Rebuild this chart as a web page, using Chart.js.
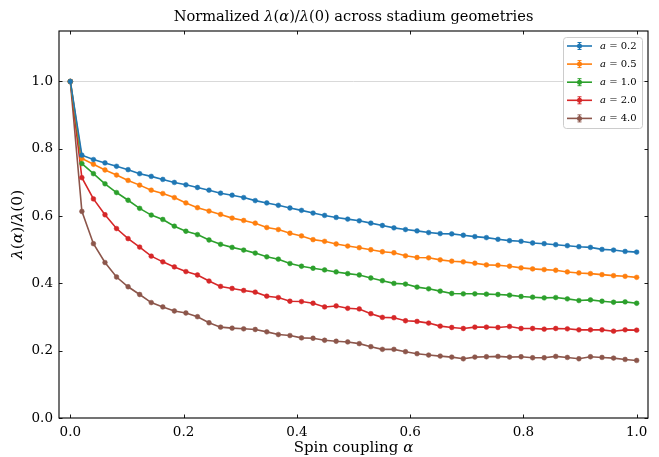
<!DOCTYPE html>
<html>
<head>
<meta charset="utf-8">
<script src="https://cdn.jsdelivr.net/npm/chart.js@4.4.1/dist/chart.umd.min.js"></script>
<style>
html,body{margin:0;padding:0;background:#fff;}
#c{display:block;}
</style>
</head>
<body>
<canvas id="c" width="659" height="457"></canvas>
<script>
const alphaValues = [0, 0.0204, 0.0408, 0.0612, 0.0816, 0.1020, 0.1224, 0.1429, 0.1633, 0.1837,
  0.2041, 0.2245, 0.2449, 0.2653, 0.2857, 0.3061, 0.3265, 0.3469, 0.3673, 0.3878,
  0.4082, 0.4286, 0.4490, 0.4694, 0.4898, 0.5102, 0.5306, 0.5510, 0.5714, 0.5918,
  0.6122, 0.6327, 0.6531, 0.6735, 0.6939, 0.7143, 0.7347, 0.7551, 0.7755, 0.7959,
  0.8163, 0.8367, 0.8571, 0.8776, 0.8980, 0.9184, 0.9388, 0.9592, 0.9796, 1.0];

const seriesA02 = [1.0, 0.781, 0.768, 0.758, 0.748, 0.738, 0.726, 0.718, 0.709, 0.700, 0.693, 0.685, 0.677,
  0.668, 0.662, 0.655, 0.646, 0.639, 0.632, 0.624, 0.617, 0.609, 0.602, 0.596, 0.591,
  0.586, 0.579, 0.572, 0.565, 0.560, 0.556, 0.551, 0.548, 0.547, 0.543, 0.539, 0.536,
  0.531, 0.527, 0.525, 0.520, 0.518, 0.515, 0.512, 0.509, 0.507, 0.501, 0.499, 0.495, 0.493];
const seriesA05 = [1.0, 0.771, 0.754, 0.737, 0.722, 0.706, 0.692, 0.677, 0.667, 0.655, 0.639, 0.625, 0.615,
  0.605, 0.594, 0.587, 0.579, 0.566, 0.560, 0.549, 0.541, 0.530, 0.525, 0.517, 0.511,
  0.506, 0.500, 0.494, 0.491, 0.482, 0.477, 0.476, 0.470, 0.466, 0.464, 0.460, 0.455,
  0.454, 0.451, 0.446, 0.443, 0.441, 0.439, 0.434, 0.431, 0.429, 0.426, 0.423, 0.421, 0.418];
const seriesA10 = [1.0, 0.756, 0.726, 0.696, 0.670, 0.647, 0.623, 0.603, 0.590, 0.570, 0.555, 0.545, 0.529,
  0.516, 0.507, 0.499, 0.490, 0.479, 0.472, 0.459, 0.451, 0.445, 0.440, 0.434, 0.429,
  0.425, 0.416, 0.408, 0.400, 0.398, 0.389, 0.384, 0.377, 0.370, 0.369, 0.369, 0.368,
  0.367, 0.365, 0.361, 0.359, 0.357, 0.358, 0.354, 0.349, 0.351, 0.347, 0.344, 0.345, 0.341];
const seriesA20 = [1.0, 0.714, 0.651, 0.604, 0.563, 0.533, 0.508, 0.481, 0.464, 0.449, 0.435, 0.425, 0.407,
  0.391, 0.385, 0.379, 0.374, 0.362, 0.358, 0.347, 0.346, 0.341, 0.330, 0.333, 0.326,
  0.324, 0.310, 0.299, 0.298, 0.289, 0.287, 0.282, 0.273, 0.269, 0.266, 0.270, 0.270,
  0.269, 0.272, 0.266, 0.266, 0.264, 0.266, 0.265, 0.262, 0.262, 0.262, 0.258, 0.262, 0.261];
const seriesA40 = [1.0, 0.614, 0.518, 0.462, 0.419, 0.390, 0.367, 0.343, 0.330, 0.318, 0.312, 0.301, 0.283,
  0.270, 0.267, 0.265, 0.263, 0.256, 0.248, 0.245, 0.238, 0.237, 0.231, 0.228, 0.226,
  0.221, 0.212, 0.204, 0.204, 0.197, 0.191, 0.187, 0.184, 0.181, 0.176, 0.181, 0.182,
  0.183, 0.181, 0.182, 0.179, 0.179, 0.183, 0.180, 0.176, 0.182, 0.180, 0.178, 0.174, 0.171];

const seriesLabels = ["0.2", "0.5", "1.0", "2.0", "4.0"];
const seriesColors = ["#1f77b4", "#ff7f0e", "#2ca02c", "#d62728", "#8c564b"];
const xTickValues = [0.0, 0.2, 0.4, 0.6, 0.8, 1.0];
const yTickValues = [0.0, 0.2, 0.4, 0.6, 0.8, 1.0];

const allSeries = [seriesA02, seriesA05, seriesA10, seriesA20, seriesA40];
const FONT = "'DejaVu Serif', 'Liberation Serif', serif";

const datasets = allSeries.map((s, k) => ({
  label: seriesLabels[k],
  data: s.map((v, i) => ({x: alphaValues[i], y: v})),
  borderColor: seriesColors[k],
  backgroundColor: seriesColors[k],
  pointBackgroundColor: seriesColors[k],
  pointBorderColor: seriesColors[k],
  borderWidth: 1.6,
  pointRadius: 2.4,
  pointBorderWidth: 0.5,
  tension: 0,
  fill: false
}));

function drawRich(ctx, segs, x, y, size, align) {
  let total = 0;
  const widths = segs.map(s => {
    ctx.font = (s.it ? 'italic ' : '') + size + 'px ' + FONT;
    const w = ctx.measureText(s.t).width;
    total += w;
    return w;
  });
  let cx = align === 'center' ? x - total / 2 : x;
  segs.forEach((s, i) => {
    ctx.font = (s.it ? 'italic ' : '') + size + 'px ' + FONT;
    ctx.textAlign = 'left';
    ctx.fillText(s.t, cx, y);
    cx += widths[i];
  });
}

const decorPlugin = {
  id: 'decor',
  beforeDatasetsDraw(chart) {
    const ctx = chart.ctx, a = chart.chartArea, ys = chart.scales.y;
    const py = ys.getPixelForValue(1.0);
    ctx.save();
    ctx.strokeStyle = '#d9d9d9';
    ctx.lineWidth = 1;
    ctx.beginPath();
    ctx.moveTo(a.left, Math.round(py) + 0.5);
    ctx.lineTo(a.right, Math.round(py) + 0.5);
    ctx.stroke();
    ctx.restore();
  },
  afterDraw(chart) {
    const ctx = chart.ctx, a = chart.chartArea, xs = chart.scales.x, ys = chart.scales.y;
    ctx.save();
    ctx.strokeStyle = '#000';
    ctx.lineWidth = 1.1;
    ctx.strokeRect(a.left, a.top, a.right - a.left, a.bottom - a.top);
    const L = 3.5;
    ctx.lineWidth = 0.9;
    ctx.beginPath();
    xTickValues.forEach(v => {
      const px = Math.round(xs.getPixelForValue(v)) + 0.5;
      ctx.moveTo(px, a.bottom); ctx.lineTo(px, a.bottom - L);
      ctx.moveTo(px, a.top); ctx.lineTo(px, a.top + L);
    });
    yTickValues.forEach(v => {
      const py = Math.round(ys.getPixelForValue(v)) + 0.5;
      ctx.moveTo(a.left, py); ctx.lineTo(a.left + L, py);
      ctx.moveTo(a.right, py); ctx.lineTo(a.right - L, py);
    });
    ctx.stroke();

    ctx.fillStyle = '#000';
    ctx.textBaseline = 'middle';
    const cx = (a.left + a.right) / 2;
    drawRich(ctx, [
      {t: 'Normalized '}, {t: 'λ', it: true}, {t: '('}, {t: 'α', it: true}, {t: ')/'},
      {t: 'λ', it: true}, {t: '(0) across stadium geometries'}
    ], cx, 17, 14.6, 'center');

    drawRich(ctx, [{t: 'Spin coupling '}, {t: 'α', it: true}], cx, 448, 15, 'center');

    ctx.save();
    ctx.translate(18, (a.top + a.bottom) / 2);
    ctx.rotate(-Math.PI / 2);
    drawRich(ctx, [{t: 'λ', it: true}, {t: '('}, {t: 'α', it: true}, {t: ')/'}, {t: 'λ', it: true}, {t: '(0)'}], 0, 0, 15.5, 'center');
    ctx.restore();

    const bx = 563, by = 37, bw = 79, bh = 91;
    ctx.fillStyle = 'rgba(255,255,255,0.85)';
    ctx.strokeStyle = '#cccccc';
    ctx.lineWidth = 1;
    ctx.beginPath();
    if (ctx.roundRect) ctx.roundRect(bx + 0.5, by + 0.5, bw, bh, 3); else ctx.rect(bx + 0.5, by + 0.5, bw, bh);
    ctx.fill(); ctx.stroke();
    chart.data.datasets.forEach((ds, k) => {
      const ey = 46 + k * 18.1;
      const col = ds.borderColor;
      ctx.strokeStyle = col;
      ctx.fillStyle = col;
      ctx.lineWidth = 1.6;
      ctx.beginPath();
      ctx.moveTo(567, ey); ctx.lineTo(592, ey);
      ctx.stroke();
      ctx.lineWidth = 1;
      ctx.beginPath();
      ctx.moveTo(579.5, ey - 3.5); ctx.lineTo(579.5, ey + 3.5);
      ctx.moveTo(577.5, ey - 3.5); ctx.lineTo(581.5, ey - 3.5);
      ctx.moveTo(577.5, ey + 3.5); ctx.lineTo(581.5, ey + 3.5);
      ctx.stroke();
      ctx.beginPath();
      ctx.arc(579.5, ey, 2.5, 0, Math.PI * 2);
      ctx.fill();
      ctx.fillStyle = '#000';
      ctx.textBaseline = 'middle';
      drawRich(ctx, [{t: 'a', it: true}, {t: ' = ' + ds.label}], 600, ey + 0.5, 10, 'left');
    });
    ctx.restore();
  }
};

new Chart(document.getElementById('c'), {
  type: 'line',
  data: {datasets},
  options: {
    responsive: false,
    animation: false,
    devicePixelRatio: 1,
    layout: {padding: {top: 31, right: 11, left: 0, bottom: 0}},
    plugins: {legend: {display: false}, title: {display: false}, tooltip: {enabled: false}},
    scales: {
      x: {
        type: 'linear', min: -0.02, max: 1.02,
        afterBuildTicks: s => { s.ticks = xTickValues.map(v => ({value: v})); },
        afterFit: s => { s.height = 39; },
        grid: {display: false, drawTicks: false},
        border: {display: false},
        ticks: {color: '#000', padding: 6, maxRotation: 0, font: {family: FONT, size: 13.5},
          callback: v => Number(v).toFixed(1)}
      },
      y: {
        type: 'linear', min: 0, max: 1.15,
        afterBuildTicks: s => { s.ticks = yTickValues.map(v => ({value: v})); },
        afterFit: s => { s.width = 59; },
        grid: {display: false, drawTicks: false},
        border: {display: false},
        ticks: {color: '#000', padding: 6, font: {family: FONT, size: 13.5},
          callback: v => Number(v).toFixed(1)}
      }
    }
  },
  plugins: [decorPlugin]
});
</script>
</body>
</html>
